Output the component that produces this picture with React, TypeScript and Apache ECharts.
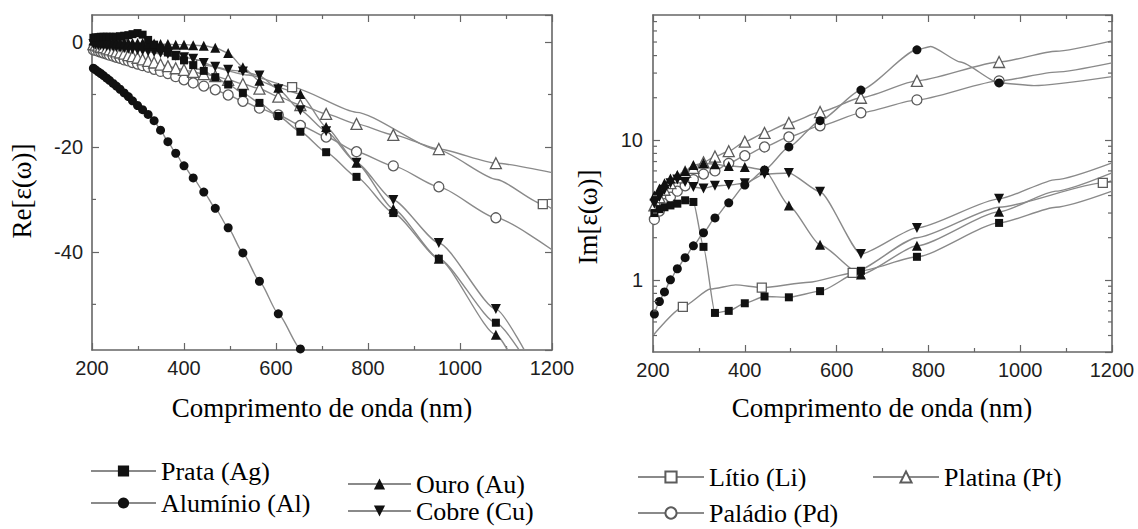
import { useEffect, useRef } from 'react';
import * as echarts from 'echarts';

// [wavelength (nm), value] ; a third entry of 0 means the point carries no marker
type Pt = [number, number] | [number, number, 0];

// ---- Re[ε(ω)] ----
const alRe: Pt[] = [
  [203, -5.0], [208, -5.3], [214, -5.7], [219, -6.0], [225, -6.4], [232, -6.9], [238, -7.3], [246, -7.9],
  [253, -8.4], [261, -9.0], [270, -9.7], [279, -10.4], [288, -11.2], [299, -12.1], [310, -12.9], [322, -13.8],
  [335, -15.0], [349, -16.8], [365, -19.0], [382, -21.2], [400, -23.6], [420, -25.9], [443, -28.6], [468, -31.7],
  [496, -35.4], [528, -40.2], [564, -45.6], [605, -51.8], [653, -58.5], [709, -66, 0],
];
const agRe: Pt[] = [
  [203, 0.8], [208, 0.9], [214, 0.9], [219, 1.0], [225, 1.0], [232, 1.0], [238, 1.0], [246, 1.0],
  [253, 1.0], [261, 1.1], [270, 1.2], [279, 1.3], [288, 1.5], [299, 1.7], [310, 1.4], [322, 0.4],
  [335, -0.5], [349, -1.2], [365, -2.0], [382, -2.7], [400, -3.5], [420, -4.4], [443, -5.5], [468, -6.7],
  [496, -8.1], [528, -9.7], [564, -11.6], [605, -14.1], [653, -17.1], [709, -21.0], [775, -25.7], [855, -32.6],
  [954, -41.3], [1078, -53.5], [1160, -63, 0],
];
const auRe: Pt[] = [
  [203, 0.3], [208, 0.3], [214, 0.2], [219, 0.2], [225, 0.1], [232, 0.1], [238, 0.0], [246, 0.0],
  [253, -0.1], [261, -0.1], [270, -0.1], [279, -0.2], [288, -0.2], [299, -0.2], [310, -0.2], [322, -0.3],
  [335, -0.3], [349, -0.4], [365, -0.4], [382, -0.5], [400, -0.5], [420, -0.6], [443, -0.7], [468, -1.1],
  [496, -2.1], [528, -4.8], [564, -7.4], [605, -8.7], [653, -9.9], [709, -16.2], [775, -23.0], [855, -31.8],
  [954, -41.3], [1078, -55.8], [1130, -63, 0],
];
const cuRe: Pt[] = [
  [203, -0.4], [208, -0.5], [214, -0.6], [219, -0.6], [225, -0.7], [232, -0.8], [238, -0.8], [246, -0.9],
  [253, -1.0], [261, -1.1], [270, -1.2], [279, -1.3], [288, -1.4], [299, -1.5], [310, -1.6], [322, -1.8],
  [335, -1.9], [349, -2.1], [365, -2.3], [382, -2.6], [400, -2.9], [420, -3.2], [443, -4.0], [468, -4.7],
  [496, -5.3], [528, -5.6], [564, -6.4], [605, -9.0], [653, -13.0], [709, -17.0], [775, -23.0], [855, -30.1],
  [954, -38.3], [1078, -50.9], [1160, -62, 0],
];
const ptRe: Pt[] = [
  [203, -0.4], [208, -0.5], [214, -0.7], [219, -0.9], [225, -1.0], [232, -1.2], [238, -1.4], [246, -1.6],
  [253, -1.8], [261, -2.0], [270, -2.2], [279, -2.5], [288, -2.7], [299, -3.0], [310, -3.3], [322, -3.6],
  [335, -3.9], [349, -4.3], [365, -4.6], [382, -5.0], [400, -5.3], [420, -5.7], [443, -6.1], [468, -6.5],
  [496, -7.2], [528, -8.0], [564, -8.9], [605, -10.4], [653, -12.0], [709, -13.7], [775, -15.6], [855, -17.7],
  [954, -20.4], [1078, -23.1], [1200, -24.9, 0],
];
const pdRe: Pt[] = [
  [203, -1.5], [208, -1.6], [214, -1.8], [219, -1.9], [225, -2.1], [232, -2.3], [238, -2.5], [246, -2.7],
  [253, -2.9], [261, -3.1], [270, -3.4], [279, -3.6], [288, -3.9], [299, -4.2], [310, -4.5], [322, -4.8],
  [335, -5.2], [349, -5.6], [365, -6.0], [382, -6.6], [400, -7.2], [420, -7.8], [443, -8.4], [468, -9.1],
  [496, -10.1], [528, -11.3], [564, -12.6], [605, -13.9], [653, -15.9], [709, -18.1], [775, -20.9], [855, -23.6],
  [954, -27.6], [1078, -33.5], [1200, -39.6, 0],
];
const liRe: Pt[] = [
  [200, 0.1, 0], [267, -0.6], [350, -2.3, 0], [437, -4.3], [540, -6.3, 0], [635, -8.6], [775, -13.4, 0],
  [954, -20.6, 0], [1080, -26.2, 0], [1180, -30.9], [1200, -31.8, 0],
];

// ---- Im[ε(ω)] ----
const alIm: Pt[] = [
  [203, 0.57], [214, 0.70], [225, 0.82], [238, 1.0], [253, 1.2], [270, 1.44], [288, 1.75], [310, 2.17],
  [335, 2.77], [365, 3.55], [400, 4.76], [443, 6.1], [496, 8.9], [564, 13.7], [653, 22.7], [775, 44],
  [805, 46.5, 0], [870, 36, 0], [954, 25.5], [1030, 24.4, 0], [1200, 28.3, 0],
];
const agIm: Pt[] = [
  [203, 3.0], [214, 3.2], [225, 3.3], [238, 3.4], [253, 3.5], [270, 3.7], [288, 3.6], [310, 1.72],
  [335, 0.58], [365, 0.60], [400, 0.68], [443, 0.76], [496, 0.75], [564, 0.83], [653, 1.16], [775, 1.46],
  [954, 2.55], [1078, 3.3, 0], [1200, 4.3, 0],
];
const auIm: Pt[] = [
  [203, 4.0], [214, 4.5], [225, 4.9], [238, 5.3], [253, 5.6], [270, 6.0], [288, 6.6], [310, 6.8],
  [335, 6.7], [365, 6.5], [400, 6.4], [443, 6.1], [496, 3.4], [564, 1.78], [653, 1.09], [775, 1.75],
  [954, 3.06], [1078, 4.3, 0], [1200, 5.8, 0],
];
const cuIm: Pt[] = [
  [203, 3.5], [214, 3.9], [225, 4.4], [238, 4.9], [253, 5.2], [270, 5.0], [288, 4.6], [310, 4.5],
  [335, 4.7], [365, 4.75], [400, 4.9], [443, 5.7], [496, 5.8], [564, 4.25], [653, 1.53], [775, 2.35],
  [954, 3.79], [1078, 5.2, 0], [1200, 6.85, 0],
];
const ptIm: Pt[] = [
  [203, 3.4], [214, 3.9], [225, 4.4], [238, 4.9], [253, 5.4], [270, 5.9], [288, 6.3], [310, 6.9],
  [335, 7.6], [365, 8.3], [400, 9.7], [443, 11.2], [496, 13.2], [564, 15.8], [653, 20.0], [775, 26.4],
  [954, 36.0], [1078, 43, 0], [1200, 51, 0],
];
const pdIm: Pt[] = [
  [203, 2.7], [214, 3.1], [225, 3.5], [238, 3.9], [253, 4.3], [270, 4.7], [288, 5.2], [310, 5.7],
  [335, 6.0], [365, 6.8], [400, 7.7], [443, 8.9], [496, 10.5], [564, 12.6], [653, 15.6], [775, 19.3],
  [954, 26.4], [1078, 30.5, 0], [1200, 35.5, 0],
];
const liIm: Pt[] = [
  [200, 0.40, 0], [265, 0.64], [325, 0.86, 0], [380, 0.92, 0], [437, 0.88], [540, 0.96, 0], [635, 1.12],
  [775, 2.0, 0], [954, 3.3, 0], [1180, 4.93], [1200, 5.1, 0],
];

// minor tick values on the y axes
const reMinorTicks = [-50, -30, -10];
const imMinorTicks = [0.4, 0.5, 0.6, 0.7, 0.8, 0.9, 2, 3, 4, 5, 6, 7, 8, 9, 20, 30, 40, 50, 60, 70];

const legendColumns = [
  ['Prata (Ag)', 'Alumínio (Al)'],
  ['Ouro (Au)', 'Cobre (Cu)'],
  ['Lítio (Li)', 'Paládio (Pd)'],
  ['Platina (Pt)'],
];

const xTitle = 'Comprimento de onda (nm)';
const reTitle = 'Re[ε(ω)]';
const imTitle = 'Im[ε(ω)]';

const SERIF = 'Liberation Serif';
const SANS = 'Liberation Sans';
const FRAME = '#666666';
const LINE = '#8a8a8a';

type Metal = {
  name: string; symbol: string; size: number; rotate?: number; filled: boolean; re: Pt[]; im: Pt[];
};

const metals: Metal[] = [
  { name: 'Lítio (Li)', symbol: 'rect', size: 9, filled: false, re: liRe, im: liIm },
  { name: 'Paládio (Pd)', symbol: 'circle', size: 10, filled: false, re: pdRe, im: pdIm },
  { name: 'Platina (Pt)', symbol: 'triangle', size: 11, filled: false, re: ptRe, im: ptIm },
  { name: 'Alumínio (Al)', symbol: 'circle', size: 9, filled: true, re: alRe, im: alIm },
  { name: 'Cobre (Cu)', symbol: 'triangle', size: 10, rotate: 180, filled: true, re: cuRe, im: cuIm },
  { name: 'Ouro (Au)', symbol: 'triangle', size: 10, filled: true, re: auRe, im: auIm },
  { name: 'Prata (Ag)', symbol: 'rect', size: 8, filled: true, re: agRe, im: agIm },
];

const toData = (pts: Pt[]) =>
  pts.map((p) => (p[2] === 0 ? { value: [p[0], p[1]], symbol: 'none' } : { value: [p[0], p[1]] }));

function lineSeries(m: Metal, pts: Pt[], axisIndex: number) {
  return {
    type: 'line',
    name: m.name,
    xAxisIndex: axisIndex,
    yAxisIndex: axisIndex,
    data: toData(pts),
    smooth: 0.2,
    smoothMonotone: 'x',
    symbol: m.symbol,
    symbolSize: m.size,
    symbolRotate: m.rotate ?? 0,
    showSymbol: true,
    clip: true,
    lineStyle: { color: LINE, width: 1.4 },
    itemStyle: m.filled
      ? { color: '#111111', borderWidth: 0 }
      : { color: '#ffffff', borderColor: '#5c5c5c', borderWidth: 1.3 },
    emphasis: { disabled: true },
    silent: true,
  };
}

// short inward marks on both vertical frame edges
function minorTickSeries(values: number[], axisIndex: number) {
  return {
    type: 'custom',
    xAxisIndex: axisIndex,
    yAxisIndex: axisIndex,
    silent: true,
    z: 5,
    data: values.map((v) => [200, v]),
    renderItem: (params: any, api: any) => {
      const cs = params.coordSys;
      const y = api.coord([api.value(0), api.value(1)])[1];
      const style = { stroke: FRAME, lineWidth: 1.2 };
      const len = 4;
      return {
        type: 'group',
        children: [
          { type: 'line', shape: { x1: cs.x, y1: y, x2: cs.x + len, y2: y }, style },
          { type: 'line', shape: { x1: cs.x + cs.width - len, y1: y, x2: cs.x + cs.width, y2: y }, style },
        ],
      };
    },
  };
}

const axisLine = { show: true, onZero: false, lineStyle: { color: FRAME, width: 1.6 } };
const tick = { show: true, inside: true, length: 7, lineStyle: { color: FRAME, width: 1.2 } };
const labelStyle = { fontFamily: SANS, fontSize: 20, color: '#1e1e1e' };

function xAxes(gridIndex: number) {
  const common = {
    type: 'value', gridIndex, min: 200, max: 1200, interval: 200,
    axisLine, axisTick: tick, splitLine: { show: false },
    minorTick: { show: true, splitNumber: 2, length: 4, lineStyle: { color: FRAME, width: 1.2 } },
  };
  return [
    { ...common, position: 'bottom', axisLabel: { ...labelStyle, margin: 8, formatter: (v: number) => String(v) } },
    { ...common, position: 'top', axisLabel: { show: false } },
  ];
}

export default function App() {
  const ref = useRef<HTMLDivElement>(null);

  useEffect(() => {
    if (!ref.current) return;
    const chart = echarts.init(ref.current, null, { renderer: 'svg' });

    const reAxisBase = {
      type: 'value', gridIndex: 0, min: -58.7, max: 5.15, splitNumber: 3,
      axisLine, axisTick: tick, splitLine: { show: false },
    };
    const imAxisBase = {
      type: 'log', logBase: 10, gridIndex: 1, min: 0.305, max: 78,
      axisLine, axisTick: tick, splitLine: { show: false }, minorTick: { show: false },
    };

    const legendLeft = [90, 347, 637, 872];
    const legendTop = [458, 471, 464, 464];
    const legendGap = [6, 1, 10, 10];
    const legendIconW = [65, 63, 66, 66];

    const titleStyle = { fontFamily: SERIF, fontSize: 27, fill: '#000', align: 'center', verticalAlign: 'middle' };

    const option: any = {
      animation: false,
      backgroundColor: '#ffffff',
      textStyle: { fontFamily: SERIF },
      grid: [
        { left: 92, top: 15, width: 460, height: 335, outerBoundsMode: 'none', containLabel: false },
        { left: 653, top: 15, width: 459, height: 337, outerBoundsMode: 'none', containLabel: false },
      ],
      xAxis: [...xAxes(0), ...xAxes(1)],
      yAxis: [
        { ...reAxisBase, position: 'left', axisLabel: { ...labelStyle, margin: 9, showMinLabel: false, showMaxLabel: false } },
        { ...reAxisBase, position: 'right', axisLabel: { show: false } },
        { ...imAxisBase, position: 'left', axisLabel: { ...labelStyle, margin: 10, showMinLabel: false, showMaxLabel: false } },
        { ...imAxisBase, position: 'right', axisLabel: { show: false } },
      ],
      legend: legendColumns.map((data, i) => ({
        data,
        orient: 'vertical',
        left: legendLeft[i],
        top: legendTop[i],
        itemGap: legendGap[i],
        itemWidth: legendIconW[i],
        itemHeight: 14,
        padding: 0,
        selectedMode: false,
        textStyle: { fontFamily: SERIF, fontSize: 26, lineHeight: 26, color: '#000000' },
      })),
      graphic: [
        { type: 'text', x: 322, y: 408, silent: true, style: { ...titleStyle, text: xTitle } },
        { type: 'text', x: 882, y: 408, silent: true, style: { ...titleStyle, text: xTitle } },
        { type: 'text', x: 22, y: 191, rotation: Math.PI / 2, silent: true, style: { ...titleStyle, text: reTitle } },
        { type: 'text', x: 588, y: 217, rotation: Math.PI / 2, silent: true, style: { ...titleStyle, text: imTitle } },
      ],
      series: [
        // left panel uses axes 0 (x bottom) / 0 (y left); right panel axes 2 / 2
        ...metals.map((m) => lineSeries(m, m.re, 0)),
        ...metals.map((m) => lineSeries(m, m.im, 2)),
        minorTickSeries(reMinorTicks, 0),
        minorTickSeries(imMinorTicks, 2),
      ],
    };

    chart.setOption(option);
    return () => chart.dispose();
  }, []);

  return (
    <div
      ref={ref}
      style={{ position: 'fixed', left: 0, top: 0, width: 1138, height: 529, background: '#fff' }}
    />
  );
}
